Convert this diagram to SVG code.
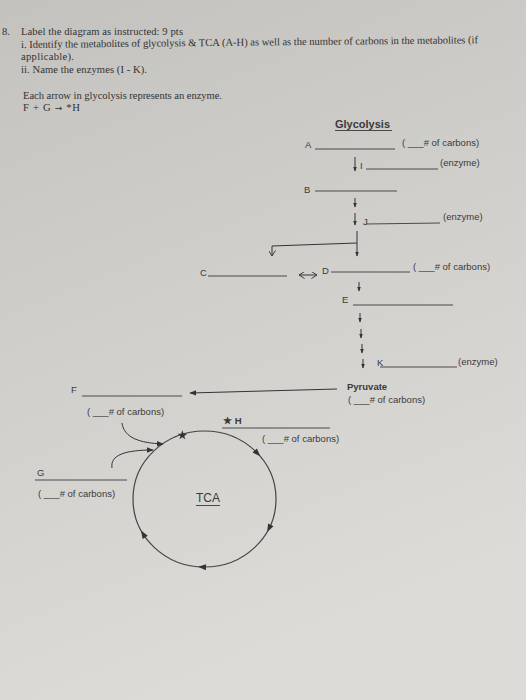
<svg xmlns="http://www.w3.org/2000/svg" width="526" height="700" viewBox="0 0 526 700">
<defs>
<linearGradient id="bg" x1="0" y1="0" x2="0.3" y2="1">
<stop offset="0" stop-color="#c4c2be"/>
<stop offset="0.5" stop-color="#d1cfcb"/>
<stop offset="1" stop-color="#dddbd7"/>
</linearGradient>
<marker id="ah" viewBox="0 0 10 10" refX="9" refY="5" markerWidth="5" markerHeight="5" orient="auto" markerUnits="userSpaceOnUse"><path d="M0,1 L10,5 L0,9 z" fill="#333"/></marker>
<marker id="ahL" viewBox="0 0 10 10" refX="9" refY="5" markerWidth="7" markerHeight="7" orient="auto" markerUnits="userSpaceOnUse"><path d="M0,1 L10,5 L0,9 z" fill="#333"/></marker>
<marker id="av" viewBox="0 0 10 10" refX="9" refY="5" markerWidth="7" markerHeight="7" orient="auto-start-reverse" markerUnits="userSpaceOnUse"><path d="M1,0 L9,5 L1,10" fill="none" stroke="#333" stroke-width="1.3"/></marker>
<style>
.h{font-family:"Liberation Serif","Times New Roman",serif;font-size:10.6px;fill:#333}
.t{font-family:"Liberation Sans",Arial,sans-serif;font-size:9.5px;fill:#3a3a3a}
.b{font-weight:bold}
.ln{stroke:#4a4a4a;stroke-width:1;fill:none}
.ar{stroke:#333;stroke-width:1;fill:none;marker-end:url(#ah)}
.ah{fill:#333}
</style>
</defs>
<rect width="526" height="700" fill="url(#bg)"/>

<g id="header">
<text class="h" x="2" y="35">8.</text>
<text class="h" x="21" y="35" textLength="162">Label the diagram as instructed: 9 pts</text>
<text class="h" x="21" y="48" textLength="457" transform="rotate(-0.6 21 48)">i. Identify the metabolites of glycolysis &amp; TCA (A-H) as well as the number of carbons in the metabolites (if</text>
<text class="h" x="21" y="60" textLength="53">applicable).</text>
<text class="h" x="21" y="73" textLength="126">ii. Name the enzymes (I - K).</text>
<text class="h" x="23" y="99" textLength="199">Each arrow in glycolysis represents an enzyme.</text>
<text class="h" x="23" y="111" textLength="57">F + G <tspan style="font-family:'DejaVu Sans',sans-serif;font-size:9px">→</tspan> *H</text>
</g>

<g id="glycolysis-title">
<text class="t b" x="335" y="128" style="font-size:11px">Glycolysis</text>
<line class="ln" x1="335" y1="130.5" x2="392" y2="130.5"/>
</g>

<g id="node-A">
<text class="t" x="305" y="148">A</text>
<line class="ln" x1="315" y1="149" x2="395" y2="149"/>
<text class="t" x="402" y="146">( ___# of carbons)</text>
</g>

<g id="enzyme-I">
<text class="t" x="360" y="169">I</text>
<line class="ln" x1="366" y1="169" x2="438" y2="169"/>
<text class="t" x="440" y="166">(enzyme)</text>
</g>

<g id="node-B">
<text class="t" x="304" y="193">B</text>
<line class="ln" x1="315" y1="191" x2="397" y2="191"/>
</g>

<g id="enzyme-J">
<text class="t" x="363" y="225">J</text>
<line class="ln" x1="366" y1="224" x2="440" y2="223"/>
<text class="t" x="443" y="220">(enzyme)</text>
</g>

<g id="node-C">
<text class="t" x="200" y="276">C</text>
<line class="ln" x1="208" y1="276" x2="287" y2="276"/>
</g>

<g id="node-D">
<text class="t" x="322" y="274">D</text>
<line class="ln" x1="331" y1="272" x2="410" y2="272"/>
<text class="t" x="413" y="270">( ___# of carbons)</text>
</g>

<g id="node-E">
<text class="t" x="342" y="303">E</text>
<line class="ln" x1="353" y1="305" x2="453" y2="305"/>
</g>

<g id="enzyme-K">
<text class="t" x="377" y="366">K</text>
<line class="ln" x1="380" y1="367" x2="457" y2="367"/>
<text class="t" x="458" y="365">(enzyme)</text>
</g>

<g id="node-pyruvate">
<text class="t b" x="347" y="390">Pyruvate</text>
<text class="t" x="348" y="403">( ___# of carbons)</text>
</g>

<g id="node-F">
<text class="t" x="71" y="393">F</text>
<line class="ln" x1="82" y1="396" x2="182" y2="396"/>
<text class="t" x="87" y="415">( ___# of carbons)</text>
</g>

<g id="node-H">
<text class="t b" x="223" y="424">★ H</text>
<line class="ln" x1="222" y1="428" x2="330" y2="428"/>
<text class="t" x="262" y="442">( ___# of carbons)</text>
</g>

<g id="node-G">
<text class="t" x="37" y="476">G</text>
<line class="ln" x1="35" y1="480" x2="127" y2="480"/>
<text class="t" x="38" y="497">( ___# of carbons)</text>
</g>

<g id="node-TCA">
<ellipse cx="204.5" cy="499" rx="71.5" ry="68" fill="none" stroke="#444" stroke-width="1.2"/>
<text class="t" x="208" y="502" text-anchor="middle" style="font-size:12px">TCA</text>
<line class="ln" x1="196" y1="505.5" x2="220" y2="505.5" stroke-width="1.3"/>
<polygon points="182.4,430.3 183.6,433.7 187.2,433.8 184.3,435.9 185.3,439.3 182.4,437.3 179.5,439.3 180.5,435.9 177.6,433.8 181.2,433.7" fill="#333"/>
<path class="ah" d="M-4,-3 L4,0 L-4,3 z" transform="translate(257.5 453.4) rotate(46.5)"/>
<path class="ah" d="M-4,-3 L4,0 L-4,3 z" transform="translate(269 528.4) rotate(116.8)"/>
<path class="ah" d="M-4,-3 L4,0 L-4,3 z" transform="translate(202 567) rotate(182)"/>
<path class="ah" d="M-4,-3 L4,0 L-4,3 z" transform="translate(143.1 533.9) rotate(238)"/>
</g>

<g id="connectors">
<line class="ar" x1="355" y1="157" x2="355" y2="171"/>
<line class="ar" x1="355" y1="198" x2="355" y2="207"/>
<line class="ar" x1="355" y1="213" x2="355" y2="225"/>
<line class="ar" x1="357" y1="231" x2="357" y2="256"/>
<path d="M357,243 L272,246 L272,256" fill="none" stroke="#333" stroke-width="1" marker-end="url(#av)"/>
<line x1="299" y1="275" x2="317" y2="275" stroke="#333" stroke-width="1" marker-start="url(#av)" marker-end="url(#av)"/>
<line class="ar" x1="359" y1="282" x2="359" y2="291"/>
<line class="ar" x1="360" y1="313" x2="360" y2="322"/>
<line class="ar" x1="361" y1="329" x2="361" y2="338"/>
<line class="ar" x1="362" y1="344" x2="362" y2="353"/>
<line class="ar" x1="363" y1="359" x2="363" y2="368"/>
<line x1="337" y1="389" x2="190" y2="393" stroke="#333" stroke-width="1" marker-end="url(#ahL)"/>
<path class="ar" d="M122,423 C124,438 140,443 163,444" style="marker-end:url(#ahL)"/>
<path class="ar" d="M112,468 C110,455 125,450 153,450" style="marker-end:url(#ahL)"/>
</g>
</svg>
